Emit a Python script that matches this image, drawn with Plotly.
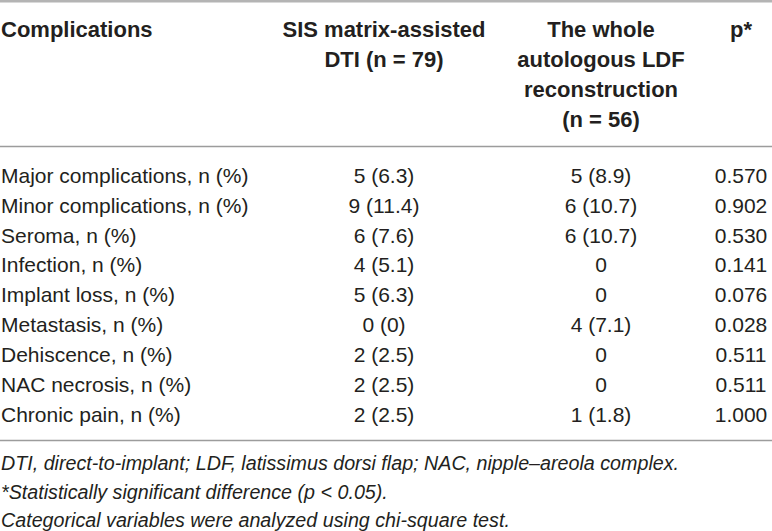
import plotly.graph_objects as go

# ---- data ----
categories = [
    "Major complications, n (%)",
    "Minor complications, n (%)",
    "Seroma, n (%)",
    "Infection, n (%)",
    "Implant loss, n (%)",
    "Metastasis, n (%)",
    "Dehiscence, n (%)",
    "NAC necrosis, n (%)",
    "Chronic pain, n (%)",
]
sis_n = [5, 9, 6, 4, 5, 0, 2, 2, 2]
sis_pct = [6.3, 11.4, 7.6, 5.1, 6.3, 0, 2.5, 2.5, 2.5]
ldf_n = [5, 6, 6, 0, 0, 4, 0, 0, 1]
ldf_pct = [8.9, 10.7, 10.7, None, None, 7.1, None, None, 1.8]
p_values = [0.570, 0.902, 0.530, 0.141, 0.076, 0.028, 0.511, 0.511, 1.000]

header_col1 = ["Complications"]
header_col2 = ["SIS matrix-assisted", "DTI (n = 79)"]
header_col3 = ["The whole", "autologous LDF", "reconstruction", "(n = 56)"]
header_col4 = ["p*"]

footnotes = [
    "DTI, direct-to-implant; LDF, latissimus dorsi flap; NAC, nipple\u2013areola complex.",
    "*Statistically significant difference (p < 0.05).",
    "Categorical variables were analyzed using chi-square test.",
]


def fmt(n, pct):
    if pct is None:
        return f"{n}"
    return f"{n} ({pct:g})"


sis_text = [fmt(n, p) for n, p in zip(sis_n, sis_pct)]
ldf_text = [fmt(n, p) for n, p in zip(ldf_n, ldf_pct)]
p_text = [f"{p:.3f}" for p in p_values]

# ---- layout constants ----
W, H = 772, 531
FONT = "Liberation Sans, Arial, sans-serif"
COLOR = "#231f20"
FS = 21
FS_HEAD = 22
FS_FOOT = 19.7
X1, X2, X3, X4 = 1, 384, 601, 741
DY = 2.5  # vertical nudge for text centering
HEAD_Y0, HEAD_DY = 29 + DY, 30
ROW_Y0, ROW_DY = 175 + DY, 29.9
FOOT_Y = [463 + DY, 491.5 + DY, 519.5 + DY]

rows_y = [ROW_Y0 + i * ROW_DY for i in range(len(categories))]

fig = go.Figure()


def add_text(xs, ys, texts, pos, bold=False, italic=False, size=FS):
    t = texts
    if bold:
        t = [f"<b>{s}</b>" for s in t]
    if italic:
        t = [f"<i>{s}</i>" for s in t]
    fig.add_trace(go.Scatter(
        x=xs, y=ys, text=t, mode="text", textposition=pos,
        textfont=dict(family=FONT, size=size, color=COLOR),
        hoverinfo="skip", showlegend=False, cliponaxis=False,
    ))


def head_y(lines):
    return [HEAD_Y0 + i * HEAD_DY for i in range(len(lines))]


# header
add_text([X1] * len(header_col1), head_y(header_col1), header_col1, "middle right", bold=True, size=FS_HEAD)
add_text([X2] * len(header_col2), head_y(header_col2), header_col2, "middle center", bold=True, size=FS_HEAD)
add_text([X3] * len(header_col3), head_y(header_col3), header_col3, "middle center", bold=True, size=FS_HEAD)
add_text([X4] * len(header_col4), head_y(header_col4), header_col4, "middle center", bold=True, size=FS_HEAD)

# body
add_text([X1] * len(categories), rows_y, categories, "middle right")
add_text([X2] * len(sis_text), rows_y, sis_text, "middle center")
add_text([X3] * len(ldf_text), rows_y, ldf_text, "middle center")
add_text([X4] * len(p_text), rows_y, p_text, "middle center")

# footnotes
add_text([X1] * len(footnotes), FOOT_Y, footnotes, "middle right", italic=True, size=FS_FOOT)

# rules
fig.add_shape(type="line", xref="x", yref="y", x0=0, x1=W, y0=1.2, y1=1.2,
              line=dict(color="#b4b4b4", width=2.5))
fig.add_shape(type="line", xref="x", yref="y", x0=0, x1=W, y0=146.5, y1=146.5,
              line=dict(color="#9c9c9c", width=1.5))
fig.add_shape(type="line", xref="x", yref="y", x0=0, x1=W, y0=440.5, y1=440.5,
              line=dict(color="#9c9c9c", width=1.5))

fig.update_layout(
    width=W, height=H,
    margin=dict(l=0, r=0, t=0, b=0),
    paper_bgcolor="white", plot_bgcolor="white",
    xaxis=dict(range=[0, W], visible=False, fixedrange=True),
    yaxis=dict(range=[H, 0], visible=False, fixedrange=True),
)

fig.write_html(
    "out.html",
    config={"displayModeBar": False},
    post_script="document.body.style.margin='0px';document.body.style.overflow='hidden';",
)
